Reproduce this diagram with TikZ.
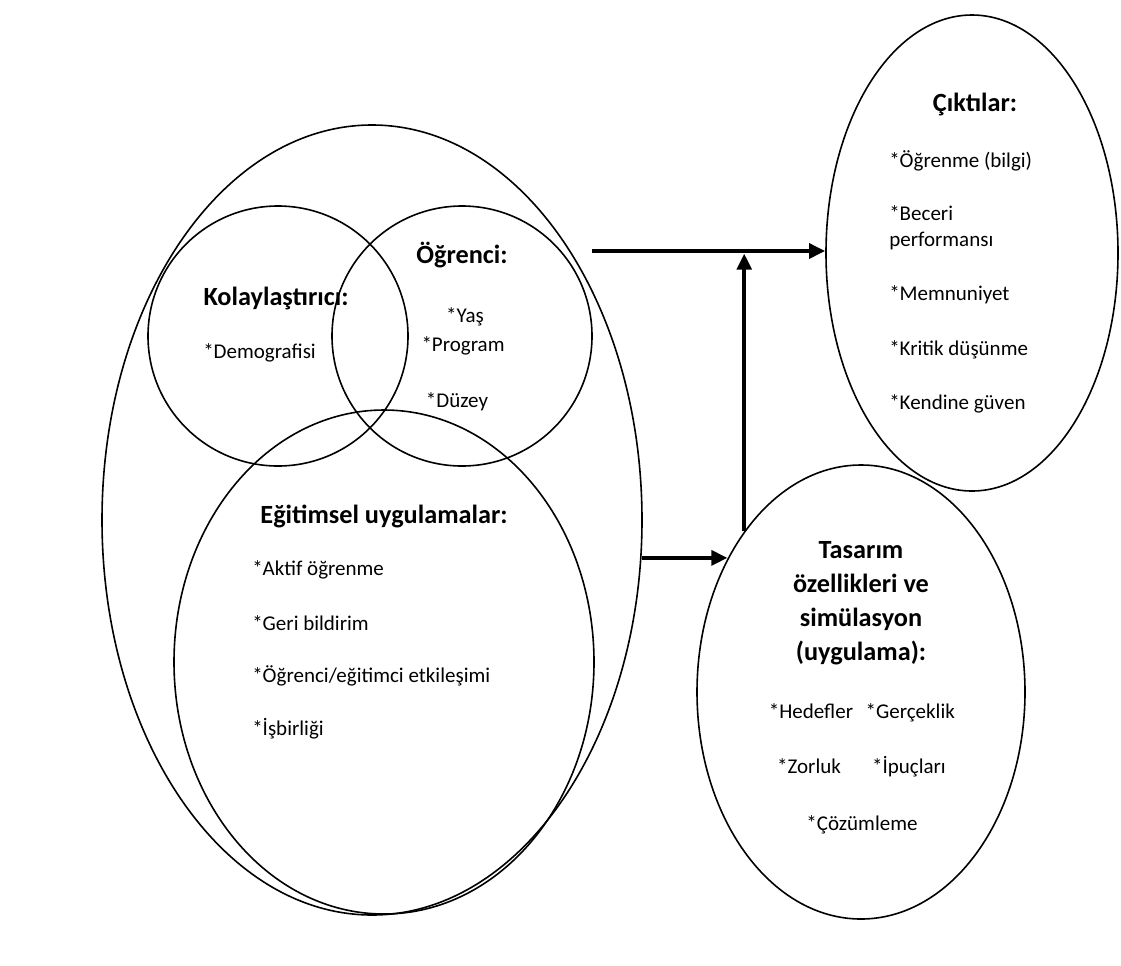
\documentclass[tikz,border=0pt]{standalone}
\usepackage{fontspec}
\setmainfont{Carlito}
\usetikzlibrary{arrows.meta, shapes.geometric, positioning}

\begin{document}
\begin{tikzpicture}[x=0.75pt, y=-0.75pt,
  blob/.style={draw, ellipse, line width=1.2pt, inner sep=0pt},
  ring/.style={draw, circle, line width=1.2pt, inner sep=0pt, minimum size=195pt},
  head/.style={font=\fontsize{19.7}{25.5}\selectfont\bfseries, inner sep=0pt, align=center},
  txt/.style={font=\fontsize{15.75}{19.5}\selectfont, inner sep=0pt},
  listitem/.style={txt, align=left},
  flow/.style={line width=2.8pt, -{Triangle[length=12pt,width=11pt]}},
  node distance=39.75pt]

  \useasboundingbox (0,0) rectangle (1121,965);

  % the shapes
  \node (big) [blob, minimum width=405pt, minimum height=592.5pt] at (372,520) {};
  \node (kolay) [ring] at (278,336) {};
  \node (ogr) [ring] at (462,336) {};
  \node (egit) [blob, minimum width=315pt, minimum height=378pt] at (384,662) {};
  \node (cikti) [blob, minimum width=219pt, minimum height=357pt] at (972,253) {};
  \node (tasar) [blob, minimum width=246pt, minimum height=340.5pt] at (861,692) {};

  % Venn texts
  \node (kolayt) [head] at (276,298) {Kolaylaştırıcı:};
  \node (demog) [txt, anchor=west] at (203,353) {*Demografisi};
  \node (ogrt) [head] at (462,255) {Öğrenci:};
  \node (yas) [txt] at (465,317) {*Yaş};
  \node (prog) [txt] at (463,346) {*Program};
  \node (duzey) [txt] at (457,402) {*Düzey};

  \node (egitt) [head] at (384,516) {Eğitimsel uygulamalar:};
  \node (aktif) [listitem, anchor=west] at (252,570) {*Aktif öğrenme};
  \node (geri) [listitem, below=39.75pt of aktif.west, anchor=west] {*Geri bildirim};
  \node (ogregit) [listitem, below=39.75pt of geri.west, anchor=west] {*Öğrenci/eğitimci etkileşimi};
  \node (isbir) [listitem, below=39.75pt of ogregit.west, anchor=west] {*İşbirliği};

  % outputs
  \node (ciktit) [head] at (975,104) {Çıktılar:};
  \node (ogrb) [listitem, anchor=west] at (889,161) {*Öğrenme (bilgi)};
  \node (beceri) [listitem, below=50.25pt of ogrb.west, anchor=west] {*Beceri\\performansı};
  \node (memn) [listitem, below=50.25pt of beceri.west, anchor=west] {*Memnuniyet};
  \node (krit) [listitem, below=41.25pt of memn.west, anchor=west] {*Kritik düşünme};
  \node (kend) [listitem, below=40.5pt of krit.west, anchor=west] {*Kendine güven};

  % design
  \node (tasart) [head] at (861,603) {Tasarım\\özellikleri ve\\simülasyon\\(uygulama):};
  \node (hed) [txt] at (811,711) {*Hedefler};
  \node (gerc) [txt, base right=9pt of hed] {*Gerçeklik};
  \node (zor) [txt] at (809,766) {*Zorluk};
  \node (ipu) [txt, base right=23pt of zor] {*İpuçları};
  \node (coz) [txt] at (862,825) {*Çözümleme};

  \coordinate (outstart) at (592,251);
  \draw[flow] (outstart) -- (outstart -| cikti.west);
  \draw[flow, shorten >=2pt] (tasar.126) -- (tasar.126 |- outstart);
  \draw[flow] (big.-8.5) -- (big.-8.5 -| tasar.135);
\end{tikzpicture}
\end{document}
